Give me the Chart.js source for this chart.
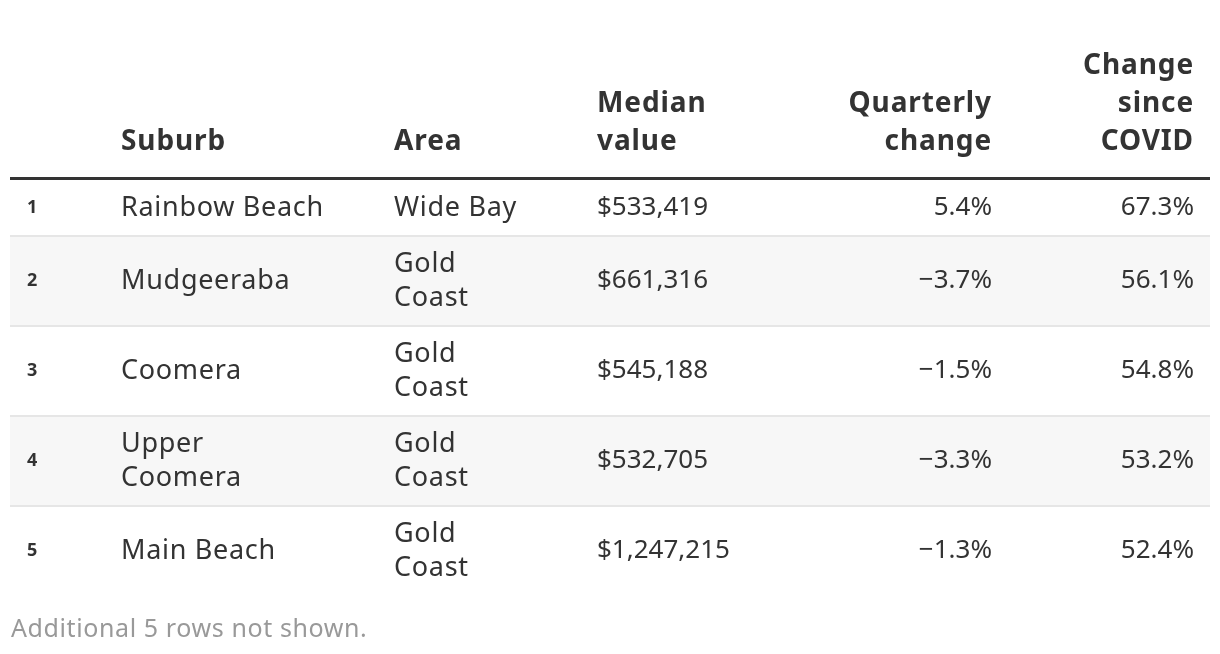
<!DOCTYPE html>
<html>
<head>
<meta charset="utf-8">
<script src="https://cdn.jsdelivr.net/npm/chart.js@4.4.0/dist/chart.umd.min.js"></script>
<style>
  html, body { margin: 0; padding: 0; background: #fff; }
  #wrap { width: 1220px; height: 654px; }
</style>
</head>
<body>
<div id="wrap"><canvas id="tableChart" width="1220" height="654"></canvas></div>
<script>
// table data
const ranks = [1, 2, 3, 4, 5];
const suburbs = [['Rainbow Beach'], ['Mudgeeraba'], ['Coomera'], ['Upper', 'Coomera'], ['Main Beach']];
const areas = [['Wide Bay'], ['Gold', 'Coast'], ['Gold', 'Coast'], ['Gold', 'Coast'], ['Gold', 'Coast']];
const medianValues = [533419, 661316, 545188, 532705, 1247215];
const quarterlyChange = [5.4, -3.7, -1.5, -3.3, -1.3];
const changeSinceCovid = [67.3, 56.1, 54.8, 53.2, 52.4];
const headers = [[''], ['Suburb'], ['Area'], ['Median', 'value'], ['Quarterly', 'change'], ['Change', 'since', 'COVID']];
const footnote = 'Additional 5 rows not shown.';

const FONT = '"Noto Sans", sans-serif';
const TEXT = '#333333';

// column layout: anchor x, alignment, numeric or text
const columns = [
  { x: 27, align: 'left', num: true },
  { x: 121, align: 'left', num: false },
  { x: 394, align: 'left', num: false },
  { x: 597, align: 'left', num: true },
  { x: 992, align: 'right', num: true },
  { x: 1194, align: 'right', num: true }
];
const tableLeft = 10, tableRight = 1210;
const headerLastLine = 142, headerLineH = 38;
const ruleY = 178.5;
const lineH = 34, rowPad = 11;

function money(v) { return '$' + v.toLocaleString('en-US'); }
function pct(v) { return (v < 0 ? '\u2212' : '') + Math.abs(v).toFixed(1) + '%'; }

function rowCells(i) {
  return [
    [String(ranks[i])],
    suburbs[i],
    areas[i],
    [money(medianValues[i])],
    [pct(quarterlyChange[i])],
    [pct(changeSinceCovid[i])]
  ];
}

const tablePlugin = {
  id: 'tablePlugin',
  beforeDatasetsDraw(chart) {
    const ctx = chart.ctx;
    const xs = chart.scales.x, ys = chart.scales.y;
    const px = v => xs.getPixelForValue(v);
    const py = v => ys.getPixelForValue(v);
    ctx.save();

    // header
    ctx.fillStyle = TEXT;
    ctx.font = 'bold 28px ' + FONT;
    ctx.letterSpacing = '0.9px';
    ctx.textBaseline = 'middle';
    headers.forEach((lines, c) => {
      ctx.textAlign = columns[c].align;
      const n = lines.length;
      lines.forEach((t, k) => {
        ctx.fillText(t, px(columns[c].x), py(headerLastLine - (n - 1 - k) * headerLineH));
      });
    });

    // thick rule under header
    ctx.strokeStyle = '#333333';
    ctx.lineWidth = 3;
    ctx.beginPath();
    ctx.moveTo(px(tableLeft), py(ruleY));
    ctx.lineTo(px(tableRight), py(ruleY));
    ctx.stroke();

    // rows
    let top = ruleY + 1.5;
    ranks.forEach((r, i) => {
      const cells = rowCells(i);
      const nLines = Math.max(...cells.map(c => c.length));
      const h = nLines * lineH + rowPad * 2;
      if (i % 2 === 1) {
        ctx.fillStyle = '#f7f7f7';
        ctx.fillRect(px(tableLeft), py(top), px(tableRight) - px(tableLeft), py(top + h) - py(top));
      }
      if (i > 0) {
        ctx.fillStyle = '#e6e6e6';
        ctx.fillRect(px(tableLeft), py(top - 1), px(tableRight) - px(tableLeft), 2);
      }
      const mid = top + h / 2;
      cells.forEach((lines, c) => {
        ctx.fillStyle = TEXT;
        if (c === 0) {
          ctx.font = 'bold 18px ' + FONT;
          ctx.letterSpacing = '0px';
        } else if (columns[c].num) {
          ctx.font = '26px ' + FONT;
          ctx.letterSpacing = '0px';
        } else {
          ctx.font = '27px ' + FONT;
          ctx.letterSpacing = '0.7px';
        }
        ctx.textAlign = columns[c].align;
        const n = lines.length;
        lines.forEach((t, k) => {
          ctx.fillText(t, px(columns[c].x), py(mid + (k - (n - 1) / 2) * lineH));
        });
      });
      top += h;
    });

    // footnote
    ctx.fillStyle = '#999999';
    ctx.font = '25px ' + FONT;
    ctx.letterSpacing = '0.6px';
    ctx.textAlign = 'left';
    ctx.fillText(footnote, px(11), py(630));
    ctx.restore();
  }
};

new Chart(document.getElementById('tableChart'), {
  type: 'scatter',
  data: { datasets: [{ data: [], pointRadius: 0 }] },
  options: {
    responsive: false,
    animation: false,
    layout: { padding: 0 },
    plugins: { legend: { display: false }, tooltip: { enabled: false } },
    scales: {
      x: { type: 'linear', min: 0, max: 1220, display: false },
      y: { type: 'linear', min: 0, max: 654, reverse: true, display: false }
    }
  },
  plugins: [tablePlugin]
});
</script>
</body>
</html>
